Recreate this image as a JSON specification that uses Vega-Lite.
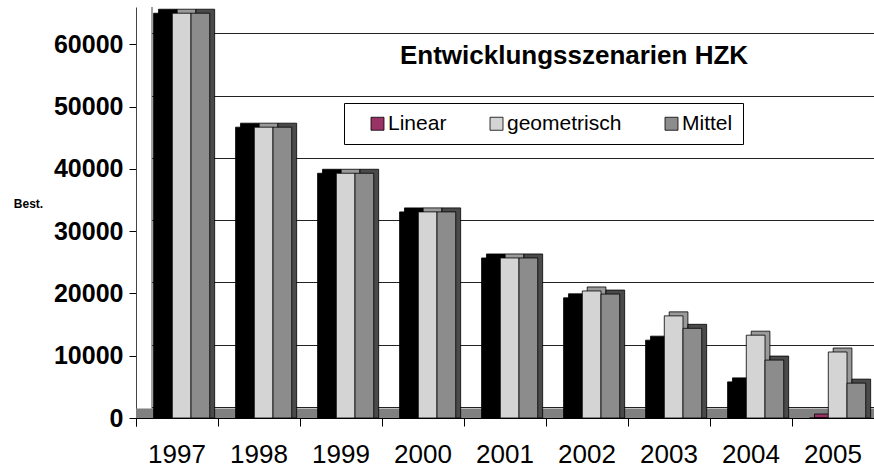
{
  "$schema": "https://vega.github.io/schema/vega-lite/v6.json",
  "width": 738,
  "height": 411,
  "autosize": {"type": "none"},
  "padding": {"left": 136, "top": 7, "right": 0, "bottom": 50},
  "background": "white",
  "config": {"view": {"stroke": null}, "font": "Liberation Sans"},
  "title": {
    "text": "Entwicklungsszenarien HZK",
    "font": "Liberation Sans",
    "fontSize": 26,
    "fontWeight": "bold",
    "color": "black",
    "anchor": "middle",
    "frame": "group",
    "offset": 0,
    "baseline": "alphabetic",
    "dx": 69,
    "dy": 83
  },
  "data": {
    "values": [
      {"year": "1997", "series": "Linear", "value": 65000},
      {"year": "1997", "series": "geometrisch", "value": 65000},
      {"year": "1997", "series": "Mittel", "value": 65000},
      {"year": "1998", "series": "Linear", "value": 46700},
      {"year": "1998", "series": "geometrisch", "value": 46700},
      {"year": "1998", "series": "Mittel", "value": 46700},
      {"year": "1999", "series": "Linear", "value": 39300},
      {"year": "1999", "series": "geometrisch", "value": 39300},
      {"year": "1999", "series": "Mittel", "value": 39300},
      {"year": "2000", "series": "Linear", "value": 33100},
      {"year": "2000", "series": "geometrisch", "value": 33100},
      {"year": "2000", "series": "Mittel", "value": 33100},
      {"year": "2001", "series": "Linear", "value": 25700},
      {"year": "2001", "series": "geometrisch", "value": 25700},
      {"year": "2001", "series": "Mittel", "value": 25700},
      {"year": "2002", "series": "Linear", "value": 19300},
      {"year": "2002", "series": "geometrisch", "value": 20400},
      {"year": "2002", "series": "Mittel", "value": 19900},
      {"year": "2003", "series": "Linear", "value": 12500},
      {"year": "2003", "series": "geometrisch", "value": 16400},
      {"year": "2003", "series": "Mittel", "value": 14400},
      {"year": "2004", "series": "Linear", "value": 5800},
      {"year": "2004", "series": "geometrisch", "value": 13300},
      {"year": "2004", "series": "Mittel", "value": 9300},
      {"year": "2005", "series": "Linear", "value": -600},
      {"year": "2005", "series": "geometrisch", "value": 10600},
      {"year": "2005", "series": "Mittel", "value": 5600}
    ]
  },
  "layer": [
    {
      "data": {"values": [{}]},
      "layer": [
        {
          "mark": {"type": "rect", "fill": "white", "xOffset": 1, "x2Offset": 16},
          "encoding": {
            "x": {"datum": "1997", "type": "nominal", "bandPosition": 0},
            "x2": {"datum": "1997", "bandPosition": 0}
          }
        },
        {
          "mark": {"type": "rect", "fill": "#808080"},
          "encoding": {
            "y": {
              "datum": -1766,
              "type": "quantitative",
              "scale": {"domain": [-1766, 64234], "nice": false, "zero": false},
              "axis": {
                "orient": "right",
                "values": [0, 10000, 20000, 30000, 40000, 50000, 60000],
                "grid": true,
                "gridColor": "#222222",
                "gridWidth": 1,
                "labels": false,
                "ticks": false,
                "domain": false,
                "title": null
              }
            },
            "y2": {"datum": -250}
          }
        },
        {
          "mark": {"type": "rule", "color": "#444444", "strokeWidth": 1, "xOffset": 16},
          "encoding": {
            "x": {"datum": "1997", "type": "nominal", "bandPosition": 0},
            "y": {"datum": -250, "type": "quantitative"},
            "y2": {"datum": 64234}
          }
        }
      ]
    },
    {
      "encoding": {
        "x": {
          "field": "year",
          "type": "nominal",
          "scale": {"paddingInner": 0, "paddingOuter": 0},
          "axis": {
            "orient": "bottom",
            "title": null,
            "labelAngle": 0,
            "labelFont": "Liberation Sans",
            "labelFontSize": 26,
            "labelColor": "black",
            "labelAlign": "center",
            "labelFlush": false,
            "labelBound": false,
            "domain": true,
            "domainWidth": 1,
            "domainColor": "black",
            "ticks": true,
            "bandPosition": 0,
            "tickExtra": true,
            "labelOffset": 0,
            "tickSize": 8,
            "tickWidth": 1,
            "tickColor": "black",
            "labelPadding": 28,
            "grid": false
          }
        },
        "y": {
          "field": "value",
          "type": "quantitative",
          "stack": null,
          "scale": {"domain": [0, 66000], "nice": false, "clamp": true},
          "axis": {
            "orient": "left",
            "values": [0, 10000, 20000, 30000, 40000, 50000, 60000],
            "format": "d",
            "grid": false,
            "labelFont": "Liberation Sans",
            "labelFontSize": 25,
            "labelFontWeight": "bold",
            "labelColor": "black",
            "labelPadding": 6,
            "tickSize": 7,
            "tickColor": "black",
            "domainColor": "#444444",
            "title": "Best.",
            "titleFont": "Liberation Sans",
            "titleFontSize": 12,
            "titleFontWeight": "bold",
            "titleColor": "black",
            "titleAngle": 0,
            "titleAlign": "center",
            "titleBaseline": "alphabetic",
            "titleX": -108,
            "titleY": 200
          }
        }
      },
      "layer": [
        {
          "mark": {"type": "bar", "yOffset": -4, "stroke": "black", "strokeWidth": 0.8},
          "encoding": {
            "xOffset": {
              "field": "series",
              "type": "nominal",
              "scale": {"domain": ["Linear", "geometrisch", "Mittel"], "paddingInner": 0, "paddingOuter": 0.69, "align": 0.87}
            },
            "fill": {
              "condition": [
                {"test": "datum.value < 0", "value": "#993366"},
                {"test": "datum.series === 'Linear'", "value": "#000000"},
                {"test": "datum.series === 'geometrisch'", "value": "#9a9a9a"}
              ],
              "value": "#4a4a4a"
            }
          }
        },
        {
          "mark": {"type": "bar", "stroke": "black", "strokeWidth": 0.8},
          "encoding": {
            "xOffset": {
              "field": "series",
              "type": "nominal",
              "scale": {"domain": ["Linear", "geometrisch", "Mittel"], "paddingInner": 0, "paddingOuter": 0.69, "align": 0.68}
            },
            "fill": {
              "condition": {"test": "datum.series === 'Linear' && datum.value >= 0", "value": "#000000"},
              "field": "series",
              "type": "nominal",
              "scale": {"domain": ["Linear", "geometrisch", "Mittel"], "range": ["#993366", "#d4d4d4", "#8c8c8c"]},
              "legend": {
                "title": null,
                "orient": "none",
                "legendX": 208,
                "legendY": 96,
                "direction": "horizontal",
                "strokeColor": "black",
                "fillColor": "white",
                "padding": 10,
                "labelFont": "Liberation Sans",
                "labelFontSize": 21,
                "labelColor": "black",
                "labelLimit": 300,
                "symbolType": "square",
                "symbolSize": 169,
                "symbolStrokeColor": "black",
                "symbolStrokeWidth": 0.8,
                "columnPadding": 26,
                "labelOffset": 0,
                "symbolOffset": 13
              }
            }
          }
        }
      ],
      "resolve": {"scale": {"xOffset": "independent"}}
    }
  ],
  "resolve": {"scale": {"y": "independent"}, "axis": {"y": "independent"}}
}
